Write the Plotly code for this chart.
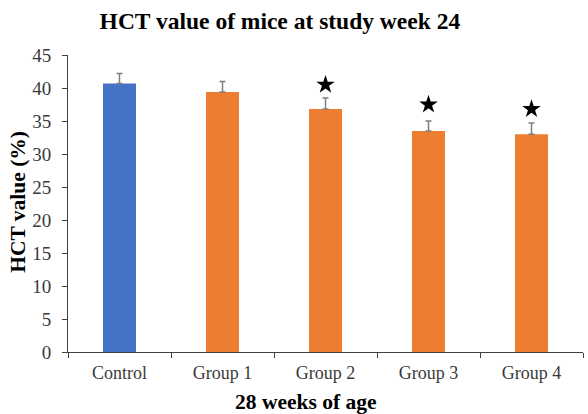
import plotly.graph_objects as go

# HCT data (mean and upper SD) per group
groups = ["Control", "Group 1", "Group 2", "Group 3", "Group 4"]
hct_mean = [40.7, 39.4, 36.8, 33.5, 33.0]
hct_sd = [1.5, 1.6, 1.7, 1.5, 1.7]
bar_colors = ["#4472C4", "#ED7D31", "#ED7D31", "#ED7D31", "#ED7D31"]

# significance markers
sig_groups = ["Group 2", "Group 3", "Group 4"]
sig_pos = [40.5, 37.5, 36.8]

serif = "Liberation Serif, Times New Roman, serif"

fig = go.Figure()
fig.add_trace(go.Bar(
    x=groups, y=hct_mean, width=0.32,
    marker=dict(color=bar_colors, line=dict(width=0)),
    error_y=dict(type="data", array=hct_sd, symmetric=False, arrayminus=[0]*5,
                 color="#7f7f7f", thickness=1.5, width=3),
    showlegend=False,
))
fig.add_trace(go.Scatter(
    x=sig_groups, y=sig_pos, mode="markers",
    marker=dict(symbol="star", size=14, color="black", line=dict(width=0)),
    showlegend=False,
))

fig.update_layout(
    width=588, height=414,
    margin=dict(l=68, r=5, t=55, b=62),
    paper_bgcolor="white", plot_bgcolor="white",
    font=dict(family=serif, color="#3a3a3a", size=14),
    title=dict(text="<b>HCT value of mice at study week 24</b>",
               font=dict(family=serif, size=23.5, color="black"),
               x=0.476, xanchor="center", y=0.949, yanchor="middle"),
    xaxis=dict(
        type="category", showline=True, linecolor="#404040", linewidth=1,
        ticks="outside", tickson="boundaries", ticklen=5, tickcolor="#404040",
        tickfont=dict(family=serif, size=18, color="#3a3a3a"),
        ticklabelstandoff=4,
        showgrid=False, range=[-0.5, 4.5],
    ),
    yaxis=dict(
        range=[0, 45], dtick=5, showline=True, linecolor="#404040", linewidth=1,
        ticks="outside", ticklen=5, tickcolor="#404040",
        tickfont=dict(family=serif, size=19, color="#3a3a3a"),
        ticklabelstandoff=7,
        showgrid=False, zeroline=False,
    ),
    annotations=[
        dict(text="<b>28 weeks of age</b>", xref="paper", yref="paper",
             x=0.462, y=0, yshift=-50, xanchor="center", yanchor="middle",
             showarrow=False, font=dict(family=serif, size=21.5, color="black")),
        dict(text="<b>HCT value (%)</b>", xref="paper", yref="paper",
             x=0, xshift=-50, y=0.506, xanchor="center", yanchor="middle",
             textangle=-90, showarrow=False,
             font=dict(family=serif, size=21.5, color="black")),
    ],
)

fig.write_html("out.html")
